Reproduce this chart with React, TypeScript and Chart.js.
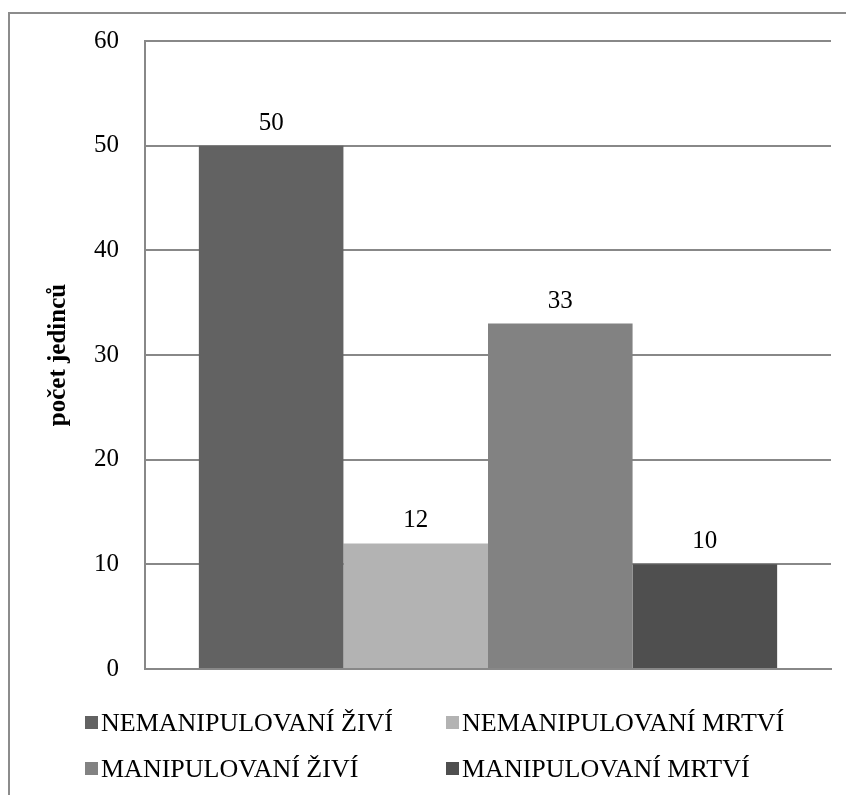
import React, { useEffect, useRef } from "react";
import { Chart, registerables } from "chart.js";

Chart.register(...registerables);

const groupLabels: string[] = [""];
const seriesNames: string[] = [
  "NEMANIPULOVANÍ ŽIVÍ",
  "NEMANIPULOVANÍ MRTVÍ",
  "MANIPULOVANÍ ŽIVÍ",
  "MANIPULOVANÍ MRTVÍ",
];
const seriesValues: number[] = [50, 12, 33, 10];
const seriesColors: string[] = ["#626262", "#b3b3b3", "#828282", "#4f4f4f"];
const yTicks: number[] = [0, 10, 20, 30, 40, 50, 60];
const yTitle = "počet jedinců";

const FONT = "'Liberation Serif', 'Times New Roman', serif";
const GRID = "#888888";

// Outer frame around the whole figure
const framePlugin = {
  id: "frame",
  beforeDraw(chart: any) {
    const { ctx } = chart;
    ctx.save();
    ctx.fillStyle = "#ffffff";
    ctx.fillRect(0, 0, chart.width, chart.height);
    ctx.strokeStyle = "#8c8c8c";
    ctx.lineWidth = 2;
    ctx.strokeRect(9, 13, chart.width + 10, chart.height + 10);
    ctx.restore();
  },
};

// Value above each bar
const valueLabels = {
  id: "valueLabels",
  afterDatasetsDraw(chart: any) {
    const { ctx } = chart;
    ctx.save();
    ctx.font = `25px ${FONT}`;
    ctx.fillStyle = "#000000";
    ctx.textAlign = "center";
    ctx.textBaseline = "alphabetic";
    chart.data.datasets.forEach((ds: any, i: number) => {
      const meta = chart.getDatasetMeta(i);
      meta.data.forEach((bar: any, j: number) => {
        ctx.fillText(String(ds.data[j]), bar.x, bar.y - 16);
      });
    });
    ctx.restore();
  },
};

// Two-column legend below the plot
const gridLegend = {
  id: "gridLegend",
  afterDraw(chart: any) {
    const { ctx } = chart;
    const colX = [85, 446];
    const rowBase = [731, 777];
    ctx.save();
    ctx.font = `26px ${FONT}`;
    ctx.textBaseline = "alphabetic";
    ctx.textAlign = "left";
    chart.data.datasets.forEach((ds: any, i: number) => {
      const x = colX[i % 2];
      const y = rowBase[Math.floor(i / 2)];
      ctx.fillStyle = ds.backgroundColor;
      ctx.fillRect(x, y - 15, 13, 13);
      ctx.fillStyle = "#000000";
      ctx.fillText(ds.label, x + 16, y);
    });
    ctx.restore();
  },
};

export default function App() {
  const ref = useRef<HTMLCanvasElement | null>(null);

  useEffect(() => {
    if (!ref.current) return;
    const chart = new Chart(ref.current, {
      type: "bar",
      data: {
        labels: groupLabels,
        datasets: seriesNames.map((name, i) => ({
          label: name,
          data: [seriesValues[i]],
          backgroundColor: seriesColors[i],
          borderWidth: 0,
          barPercentage: 1,
          categoryPercentage: 0.843,
        })),
      },
      options: {
        animation: false,
        responsive: false,
        maintainAspectRatio: false,
        layout: { padding: { top: 24, right: 15, bottom: 0, left: 0 } },
        plugins: {
          legend: { display: false },
          tooltip: { enabled: false },
        },
        scales: {
          x: {
            grid: { display: false, drawTicks: false },
            border: { display: true, color: GRID, width: 2 },
            ticks: { display: false },
            afterFit(scale: any) {
              scale.height = 126;
            },
          },
          y: {
            min: 0,
            max: 60,
            afterBuildTicks(scale: any) {
              scale.ticks = yTicks.map((v) => ({ value: v }));
            },
            grid: { color: GRID, lineWidth: 2, drawTicks: false },
            border: { display: true, color: GRID, width: 2 },
            ticks: {
              padding: 26,
              color: "#000000",
              font: { family: FONT, size: 25 },
            },
            title: {
              display: true,
              text: yTitle,
              color: "#000000",
              font: { family: FONT, size: 25, weight: "bold" },
              padding: { top: 44, bottom: 0 },
            },
            afterFit(scale: any) {
              scale.width = 145;
            },
          },
        },
      },
      plugins: [framePlugin, valueLabels, gridLegend],
    });
    return () => chart.destroy();
  }, []);

  return (
    <div style={{ position: "fixed", left: 0, top: 0, width: 846, height: 795 }}>
      <canvas ref={ref} width={846} height={795} style={{ display: "block" }} />
    </div>
  );
}
